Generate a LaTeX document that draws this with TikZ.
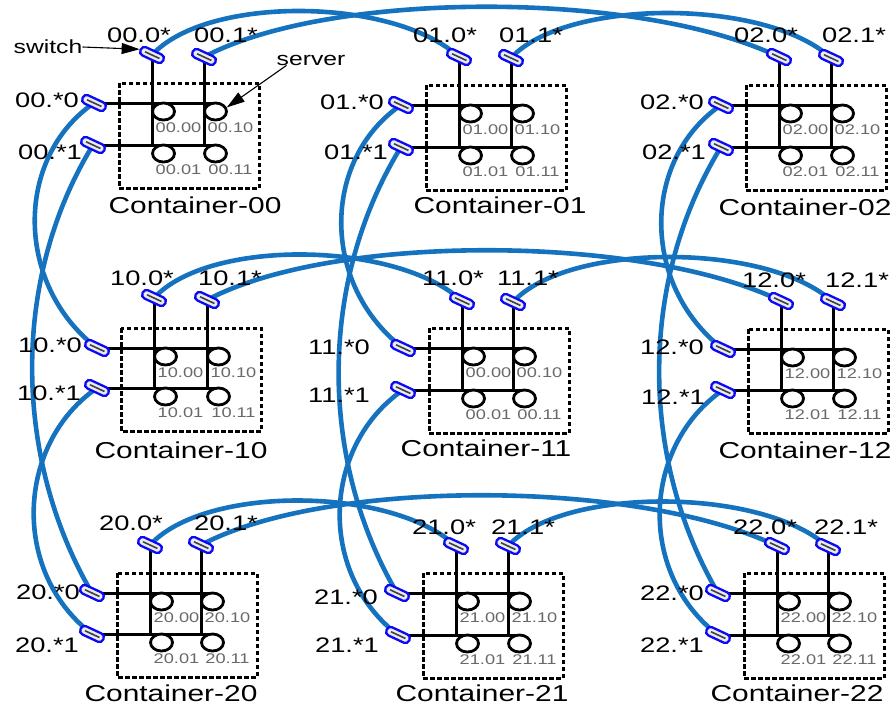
\documentclass[tikz,border=0pt]{standalone}
\usepackage{graphicx}
\usepackage{fontspec}
\setmainfont{Liberation Sans}
\usetikzlibrary{calc,backgrounds,arrows.meta,shapes.geometric}
\definecolor{linkblue}{RGB}{20,114,190}
\definecolor{swblue}{RGB}{10,10,245}
\definecolor{srvgray}{RGB}{105,105,105}
\newcommand\sx[1]{\scalebox{1.3}[1]{#1}}
\tikzset{
  sw/.style={draw=swblue, line width=2.3pt, fill=black!8, rounded corners=4pt,
    minimum width=25pt, minimum height=9pt, inner sep=0pt, rotate=-25},
  swcore/.style={draw=black!75, line width=1.6pt},
  link/.style={draw=linkblue, line width=4.6pt},
  wire/.style={draw=black, line width=3pt},
  srv/.style={ellipse, draw=black, line width=2.8pt, fill=white, minimum width=22pt,
    minimum height=17pt, inner sep=0pt},
  srvlbl/.style={text=srvgray, font=\fontsize{14}{16}\selectfont, inner sep=0pt},
  swlbl/.style={font=\fontsize{21}{24}\selectfont, inner sep=0pt},
  ctlbl/.style={font=\fontsize{23}{26}\selectfont, inner sep=0pt},
  annot/.style={font=\fontsize{19}{22}\selectfont, inner sep=0pt},
  cbox/.style={draw=black, line width=3pt, dash pattern=on 4.5pt off 2.5pt},
  pointer/.style={draw=black, line width=1.1pt, -{Triangle[length=18pt,width=11pt]}},
}
% #1 id, #2 server label prefix, #3..#6 switch positions (row sw 0, row sw 1, col sw 0, col sw 1)
\newcommand\mkcontainer[6]{%
  \node[sw] (n#1r0) at (#3) {};
  \node[sw] (n#1r1) at (#4) {};
  \node[sw] (n#1c0) at (#5) {};
  \node[sw] (n#1c1) at (#6) {};
  \foreach \sn in {r0,r1,c0,c1}{%
    \draw[swcore] ($(n#1\sn.west)!0.22!(n#1\sn.east)$) -- ($(n#1\sn.west)!0.8!(n#1\sn.east)$);}
  \coordinate (g#1a) at (n#1r0 |- n#1c0);
  \coordinate (g#1b) at (n#1r1 |- n#1c0);
  \coordinate (g#1c) at (n#1r0 |- n#1c1);
  \coordinate (g#1d) at (n#1r1 |- n#1c1);
  \coordinate (e#1a) at ($(g#1b)+(13,0)$);
  \coordinate (e#1b) at ($(g#1d)+(13,0)$);
  \begin{scope}[on background layer]
    \draw[cbox] ($(g#1a)+(-33,-20)$) rectangle ($(g#1c)+(107,43)$);
    \draw[wire] (n#1c0.center) -- (e#1a);
    \draw[wire] (n#1c1.center) -- (e#1b);
    \draw[wire] (n#1r0.center) -- (g#1c);
    \draw[wire] (n#1r1.center) -- (g#1d);
  \end{scope}
  \node[srv] (s#1x00) at ($(g#1a)+(11.5,8.5)$) {};
  \node[srv] (s#1x10) at ($(g#1b)+(11.5,8.5)$) {};
  \node[srv] (s#1x01) at ($(g#1c)+(11.5,8.5)$) {};
  \node[srv] (s#1x11) at ($(g#1d)+(11.5,8.5)$) {};
  \node[srvlbl] (t#1x00) at ($(s#1x00)+(15,16.5)$) {\sx{#2.00}};
  \node[srvlbl] (t#1x10) at ($(s#1x10)+(15,16.5)$) {\sx{#2.10}};
  \node[srvlbl] (t#1x01) at ($(s#1x01)+(15,16.5)$) {\sx{#2.01}};
  \node[srvlbl] (t#1x11) at ($(s#1x11)+(15,16.5)$) {\sx{#2.11}};
}
\begin{document}
\begin{tikzpicture}[x=1pt,y=-1pt]
\useasboundingbox (0,0) rectangle (896,707);

\mkcontainer{00}{00}{152,55}{204,57}{94,103}{93,145}
\mkcontainer{01}{01}{459,57}{511,58}{401,105}{401,147}
\mkcontainer{02}{02}{779,57}{831,58}{721,105}{721,147}
\mkcontainer{10}{10}{154,298}{207,300}{97,348}{97,388}
\mkcontainer{11}{00}{462,301}{513,302}{403,348}{403,390}
\mkcontainer{12}{12}{781,301}{833,302}{723,349}{723,390}
\mkcontainer{20}{20}{150,545}{201,545}{92,593}{92,634}
\mkcontainer{21}{21}{456,546}{508,546}{397,593}{398,635}
\mkcontainer{22}{22}{777,546}{828,547}{718,593}{718,635}

% switch labels
\foreach \nm/\txt/\x/\y in {
  a00r0/00.0*/139/35, a00r1/00.1*/226/35, a00c0/00.*0/47/100, a00c1/00.*1/50/152,
  a01r0/01.0*/445/35, a01r1/01.1*/531/35, a01c0/01.*0/352/102, a01c1/01.*1/356/152,
  a02r0/02.0*/766/35, a02r1/02.1*/854/35, a02c0/02.*0/672/102, a02c1/02.*1/674/152,
  a10r0/10.0*/142/278, a10r1/10.1*/230/278, a10c0/10.*0/50/345, a10c1/10.*1/49/393,
  a11r0/11.0*/453/278, a11r1/11.1*/528/278, a11c0/11.*0/339/347, a11c1/11.*1/339/395,
  a12r0/12.0*/774/280, a12r1/12.1*/857/280, a12c0/12.*0/672/347, a12c1/12.*1/673/397,
  a20r0/20.0*/131/523, a20r1/20.1*/226/523, a20c0/20.*0/48/592, a20c1/20.*1/47/645,
  a21r0/21.0*/444/527, a21r1/21.1*/523/527, a21c0/21.*0/346/597, a21c1/21.*1/347/645,
  a22r0/22.0*/765/527, a22r1/22.1*/846/527, a22c0/22.*0/672/593, a22c1/22.*1/672/645}
  {\node[swlbl] (\nm) at (\x,\y) {\sx{\txt}};}

% container labels
\foreach \nm/\txt/\x/\y in {
  k00/Container-00/195/205, k01/Container-01/500/205, k02/Container-02/805/207,
  k10/Container-10/181/450, k11/Container-11/486/448, k12/Container-12/805/450,
  k20/Container-20/171/693, k21/Container-21/482/693, k22/Container-22/797/693}
  {\node[ctlbl] (\nm) at (\x,\y) {\sx{\txt}};}

% annotations
\node[annot] (swtxt) at (48,47) {\sx{switch}};
\node[annot] (svtxt) at (311,60) {\sx{server}};
\draw[pointer] (swtxt.east) -- (n00r0.west);
\draw[pointer] ([xshift=10pt]svtxt.south west) -- (s00x10.20);

% inter-container links
\begin{scope}[on background layer]
  \foreach \rr in {0,1,2}{
    \draw[link] (n\rr 0r0.center) .. controls +(55,-60) and +(-65,-60) .. (n\rr 1r0.center);
    \draw[link] (n\rr 0r1.center) .. controls +(126,-67) and +(-139,-67) .. (n\rr 2r0.center);
    \draw[link] (n\rr 1r1.center) .. controls +(55,-60) and +(-65,-60) .. (n\rr 2r1.center);
  }
  \foreach \cc in {0,1,2}{
    \draw[link] (n0\cc c0.center) .. controls +(-80,55) and +(-82,-63) .. (n1\cc c0.center);
    \draw[link] (n0\cc c1.center) .. controls +(-83,135) and +(-78,-133) .. (n2\cc c0.center);
    \draw[link] (n1\cc c1.center) .. controls +(-80,55) and +(-82,-63) .. (n2\cc c1.center);
  }
\end{scope}
\end{tikzpicture}
\end{document}
